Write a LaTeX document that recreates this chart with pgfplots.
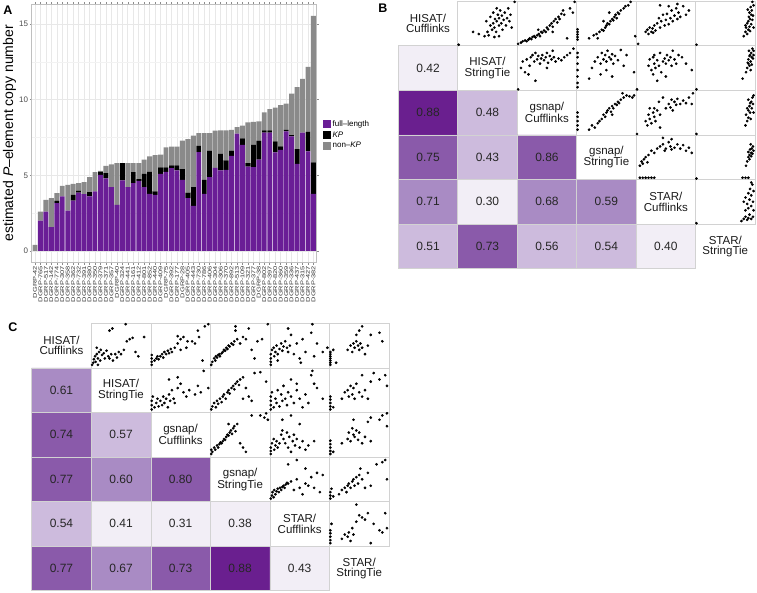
\documentclass[border=0pt]{standalone}
\usepackage{pgfplots}
\usepackage{pgfplotstable}
\pgfplotsset{compat=1.18}
\usepackage{fontspec}
\setmainfont{Liberation Sans}
\usepackage{graphicx}
\definecolor{pur}{RGB}{106,30,150}
\definecolor{nkp}{RGB}{138,138,138}
\definecolor{h0}{HTML}{F2EEF6}
\definecolor{h1}{HTML}{CDBBDD}
\definecolor{h2}{HTML}{A98BC4}
\definecolor{h3}{HTML}{8A5AAA}
\definecolor{h4}{HTML}{6A1F8F}
\definecolor{bordc}{HTML}{D2D2D2}
\newcommand\dgrp[1]{\scalebox{1.35}[1]{DGRP-#1}}
\newcommand\scat[3]{\addplot[only marks, mark=*, mark size=1.15pt, draw=black, fill=black, x filter/.expression={#1+0.015+0.97*x}, y filter/.expression={#2+0.02+0.96*y}] coordinates {#3};}
\newcommand\frm[2]{\draw[bordc, line width=0.6pt] (axis cs:#1,#2) rectangle (axis cs:#1+1,#2+1);}
% x0 y0 x1 y1 xc yc color text
\newcommand\hc[8]{\addplot[fill=#7, draw=bordc, line width=0.6pt] coordinates {(#1,#2) (#3,#2) (#3,#4) (#1,#4) (#1,#2)};
\node[font=\fontsize{12}{12}\selectfont, text=black!85] at (axis cs:#5,#6) {#8};}
\newcommand\dl[4]{\node[font=\fontsize{11.5}{10.5}\selectfont, align=center, text=black!90, inner sep=0pt] at (axis cs:#1,#2) {#3\\#4};}
\pgfplotstableread{
x p k n
1 0 0 0.40
2 2.01 0 0.59
3 2.60 0 0.78
4 1.57 0 1.92
5 3.16 0.17 0.49
6 3.60 0 0.70
7 2.67 0 1.70
8 3.33 0.38 0.73
9 3.86 0.13 0.49
10 3.75 0 0.80
11 3.60 0.29 0.99
12 3.93 0 1.28
13 5.03 0.22 0.05
14 4.79 0.35 0.49
15 4.22 0 1.50
16 3.05 0 2.76
17 4.66 1.15 0
18 4.22 0 1.59
19 4.48 0.73 0.60
20 4.64 0.11 1.06
21 4.22 0.88 0.93
22 3.77 1.46 1.02
23 3.70 0.23 2.40
24 5.10 0.42 0.84
25 5.23 0.29 1.32
26 5.47 0.18 1.25
27 5.32 0.33 1.25
28 4.70 0.71 1.89
29 3.49 0.37 3.54
30 2.98 1.24 3.40
31 6.54 0.41 0.84
32 3.77 0.93 3.09
33 4.88 1.76 1.15
34 5.50 0 2.45
35 5.32 1.10 1.55
36 5.36 0.62 1.99
37 6.29 0.35 1.37
38 7.75 0 0.44
39 7.02 0.42 0.84
40 5.58 0.23 2.69
41 5.54 1.48 1.52
42 6.03 1.27 1.26
43 7.83 0.14 1.19
44 7.83 0.14 1.41
45 6.51 0.73 2.23
46 6.69 0.22 2.74
47 7.90 0.11 1.73
48 7.57 0.09 2.74
49 5.76 0.97 4.11
50 7.83 0 3.54
51 6.58 1.30 4.29
52 3.77 2.08 9.70
}\dataA
\begin{document}
\begin{tikzpicture}
\path[use as bounding box] (0pt,0pt) rectangle (757pt,-592pt);
\node[font=\bfseries\fontsize{12.5}{12.5}\selectfont] at (8pt,-10pt) {A};
\node[font=\bfseries\fontsize{12.5}{12.5}\selectfont] at (383pt,-8pt) {B};
\node[font=\bfseries\fontsize{12.5}{12.5}\selectfont] at (13pt,-327pt) {C};
% ---------------- Panel A
\begin{axis}[
  at={(31.7pt,-262.7pt)}, anchor=south west,
  scale only axis, width=285pt, height=258.7pt,
  ybar stacked, bar width=0.9,
  xmin=0.4, xmax=52.6, ymin=-0.78, ymax=16.33,
  xtick={1,...,52},
  xticklabels={\dgrp{42},\dgrp{765},\dgrp{517},\dgrp{142},\dgrp{774},\dgrp{307},\dgrp{358},\dgrp{362},\dgrp{732},\dgrp{391},\dgrp{380},\dgrp{350},\dgrp{379},\dgrp{371},\dgrp{357},\dgrp{40},\dgrp{324},\dgrp{441},\dgrp{161},\dgrp{412},\dgrp{801},\dgrp{852},\dgrp{440},\dgrp{409},\dgrp{75},\dgrp{392},\dgrp{177},\dgrp{28},\dgrp{405},\dgrp{443},\dgrp{730},\dgrp{786},\dgrp{406},\dgrp{304},\dgrp{306},\dgrp{370},\dgrp{892},\dgrp{513},\dgrp{109},\dgrp{321},\dgrp{377},\dgrp{38},\dgrp{802},\dgrp{397},\dgrp{820},\dgrp{360},\dgrp{359},\dgrp{336},\dgrp{437},\dgrp{315},\dgrp{427},\dgrp{382}},
  ytick={0,5,10,15},
  minor ytick={2.5,7.5,12.5},
  grid=both,
  major grid style={draw=black!9, line width=0.6pt},
  minor grid style={draw=black!5, line width=0.4pt},
  axis line style={draw=black!25, line width=0.6pt},
  tick align=outside, major tick length=2pt, minor tick length=0pt,
  every tick/.style={draw=black!45, line width=0.5pt},
  tick label style={text=black!70},
  y tick label style={font=\fontsize{8}{8}\selectfont, inner sep=1.5pt},
  x tick label style={font=\fontsize{5.5}{5.5}\selectfont, rotate=90, anchor=east, inner sep=1pt, text=black!80},
  /pgf/number format/assume math mode=true,
  ylabel={estimated \textit{P}–element copy number},
  every axis y label/.style={at={(axis description cs:-0.078,0.5)}, rotate=90, anchor=center, font=\fontsize{14}{14}\selectfont},
  legend style={at={(1.02,0.494)}, anchor=west, draw=none, fill=none, font=\fontsize{8}{8.5}\selectfont, row sep=-0.5pt, inner sep=0pt, cells={anchor=west}},
  legend image code/.code={\fill[#1] (0pt,-4pt) rectangle (8pt,4pt);},
]
\addplot[fill=pur, draw=none] table[x=x, y=p] {\dataA};
\addlegendentry{full–length}
\addplot[fill=black, draw=none] table[x=x, y=k] {\dataA};
\addlegendentry{\textit{KP}}
\addplot[fill=nkp, draw=none] table[x=x, y=n] {\dataA};
\addlegendentry{non–\textit{KP}}
\end{axis}
% ---------------- Panel B
\begin{axis}[at={(398.3pt,-268.7pt)}, anchor=south west, scale only axis, width=356.7pt, height=267.7pt,
  xmin=0, xmax=6, ymin=0, ymax=6, hide axis, clip=false]
\hc{0}{4}{1}{5}{0.5}{4.5}{h0}{0.42}
\hc{0}{3}{1}{4}{0.5}{3.5}{h4}{0.88}
\hc{1}{3}{2}{4}{1.5}{3.5}{h1}{0.48}
\hc{0}{2}{1}{3}{0.5}{2.5}{h3}{0.75}
\hc{1}{2}{2}{3}{1.5}{2.5}{h1}{0.43}
\hc{2}{2}{3}{3}{2.5}{2.5}{h3}{0.86}
\hc{0}{1}{1}{2}{0.5}{1.5}{h2}{0.71}
\hc{1}{1}{2}{2}{1.5}{1.5}{h0}{0.30}
\hc{2}{1}{3}{2}{2.5}{1.5}{h2}{0.68}
\hc{3}{1}{4}{2}{3.5}{1.5}{h2}{0.59}
\hc{0}{0}{1}{1}{0.5}{0.5}{h1}{0.51}
\hc{1}{0}{2}{1}{1.5}{0.5}{h3}{0.73}
\hc{2}{0}{3}{1}{2.5}{0.5}{h1}{0.56}
\hc{3}{0}{4}{1}{3.5}{0.5}{h1}{0.54}
\hc{4}{0}{5}{1}{4.5}{0.5}{h0}{0.40}
\dl{0.5}{5.5}{HISAT/}{Cufflinks}
\dl{1.5}{4.5}{HISAT/}{StringTie}
\dl{2.5}{3.5}{gsnap/}{Cufflinks}
\dl{3.5}{2.5}{gsnap/}{StringTie}
\dl{4.5}{1.5}{STAR/}{Cufflinks}
\dl{5.5}{0.5}{STAR/}{StringTie}
\frm{1}{5}\frm{2}{5}\frm{3}{5}\frm{4}{5}\frm{5}{5}
\frm{2}{4}\frm{3}{4}\frm{4}{4}\frm{5}{4}
\frm{3}{3}\frm{4}{3}\frm{5}{3}
\frm{4}{2}\frm{5}{2}
\frm{5}{1}
\scat{1}{5}{(0.0,0.0) (0.25,0.3) (0.35,0.25) (0.45,0.2) (0.5,0.3) (0.52,0.22) (0.55,0.45) (0.58,0.35) (0.6,0.5) (0.62,0.4) (0.63,0.6) (0.65,0.3) (0.66,0.55) (0.68,0.7) (0.7,0.45) (0.7,0.62) (0.72,0.8) (0.74,0.5) (0.75,0.68) (0.76,0.35) (0.78,0.58) (0.8,0.75) (0.82,0.45) (0.84,0.62) (0.86,0.85) (0.88,0.55) (0.9,0.7) (0.55,0.65) (0.6,0.75) (0.66,0.85) (0.48,0.55) (0.92,0.4) (0.97,1.0) (0.62,0.18) (0.7,0.2)}
\scat{2}{5}{(0.0,0.02) (0.05,0.05) (0.08,0.08) (0.12,0.1) (0.15,0.08) (0.18,0.12) (0.2,0.15) (0.23,0.13) (0.25,0.18) (0.28,0.2) (0.3,0.17) (0.33,0.22) (0.36,0.25) (0.38,0.2) (0.4,0.3) (0.42,0.28) (0.45,0.33) (0.48,0.3) (0.5,0.4) (0.52,0.36) (0.55,0.45) (0.58,0.5) (0.6,0.42) (0.62,0.55) (0.65,0.6) (0.68,0.52) (0.7,0.65) (0.72,0.6) (0.75,0.72) (0.78,0.8) (0.8,0.7) (0.85,0.15) (0.9,0.85) (0.95,0.75) (0.98,1.0) (0.6,0.3) (0.35,0.35)}
\scat{3}{5}{(0.0,0.12) (0.0,0.18) (0.0,0.24) (0.0,0.3) (0.0,0.36) (0.2,0.15) (0.28,0.22) (0.33,0.25) (0.38,0.3) (0.42,0.35) (0.45,0.33) (0.48,0.4) (0.5,0.45) (0.52,0.5) (0.55,0.48) (0.57,0.55) (0.6,0.6) (0.62,0.57) (0.64,0.65) (0.66,0.7) (0.68,0.62) (0.7,0.75) (0.72,0.72) (0.75,0.8) (0.8,0.85) (0.83,0.9) (0.88,0.92) (0.92,1.0) (1.0,0.2) (0.55,0.75) (0.45,0.55) (0.35,0.15)}
\scat{4}{5}{(0.02,0.02) (0.15,0.3) (0.18,0.35) (0.2,0.25) (0.22,0.4) (0.25,0.3) (0.27,0.38) (0.28,0.28) (0.3,0.45) (0.32,0.33) (0.35,0.5) (0.38,0.62) (0.4,0.4) (0.42,0.55) (0.45,0.7) (0.48,0.45) (0.5,0.58) (0.52,0.72) (0.55,0.48) (0.58,0.62) (0.6,0.8) (0.62,0.55) (0.65,0.68) (0.68,0.85) (0.7,0.6) (0.72,0.75) (0.75,0.65) (0.8,0.9) (0.85,0.7) (0.9,0.8) (0.4,0.92) (0.7,0.95) (0.55,0.9)}
\scat{5}{5}{(0.0,0.0) (0.82,0.2) (0.85,0.3) (0.88,0.25) (0.9,0.35) (0.86,0.4) (0.92,0.42) (0.88,0.5) (0.95,0.48) (0.9,0.55) (0.93,0.6) (0.97,0.58) (0.91,0.65) (0.95,0.7) (0.98,0.68) (0.92,0.75) (0.96,0.8) (0.89,0.82) (0.94,0.88) (0.99,0.92) (0.97,1.0) (0.85,0.45) (0.93,0.32) (0.99,0.4)}
\scat{2}{4}{(0.0,0.0) (0.05,0.5) (0.08,0.65) (0.12,0.4) (0.15,0.7) (0.2,0.55) (0.22,0.75) (0.25,0.8) (0.28,0.65) (0.3,0.85) (0.33,0.7) (0.35,0.78) (0.38,0.6) (0.4,0.72) (0.42,0.8) (0.45,0.68) (0.48,0.75) (0.5,0.85) (0.52,0.62) (0.55,0.78) (0.58,0.7) (0.6,0.9) (0.62,0.75) (0.65,0.65) (0.7,0.72) (0.75,0.68) (0.8,0.75) (0.85,0.8) (0.9,0.85) (0.96,0.95) (0.3,0.2) (0.18,0.35) (0.5,0.5)}
\scat{3}{4}{(0.0,0.05) (0.0,0.15) (0.0,0.3) (0.0,0.45) (0.0,0.6) (0.0,0.75) (0.0,0.85) (0.25,0.5) (0.3,0.65) (0.35,0.75) (0.4,0.6) (0.42,0.85) (0.45,0.7) (0.48,0.8) (0.5,0.65) (0.52,0.9) (0.55,0.75) (0.58,0.7) (0.6,0.82) (0.62,0.6) (0.65,0.78) (0.7,0.68) (0.75,0.92) (0.8,0.55) (0.85,0.8) (0.5,0.45) (0.4,0.35) (0.2,0.25) (0.6,0.3) (0.98,0.4)}
\scat{4}{4}{(0.0,0.0) (0.2,0.55) (0.22,0.7) (0.25,0.45) (0.28,0.75) (0.3,0.6) (0.3,0.8) (0.32,0.5) (0.35,0.68) (0.38,0.55) (0.4,0.85) (0.42,0.4) (0.45,0.65) (0.48,0.72) (0.5,0.6) (0.52,0.8) (0.55,0.68) (0.58,0.75) (0.6,0.55) (0.62,0.9) (0.65,0.7) (0.68,0.6) (0.72,0.8) (0.78,0.75) (0.85,0.6) (0.95,0.45) (0.35,0.2) (0.5,0.3) (0.28,0.35)}
\scat{5}{4}{(0.0,0.0) (0.8,0.25) (0.86,0.4) (0.88,0.5) (0.9,0.6) (0.92,0.55) (0.94,0.65) (0.9,0.7) (0.96,0.75) (0.93,0.8) (0.98,0.72) (0.95,0.85) (0.99,0.9) (0.91,0.9) (0.97,0.95) (0.89,0.62) (0.94,0.45) (0.99,0.8) (0.92,0.78) (0.96,0.58)}
\scat{3}{3}{(0.0,0.1) (0.0,0.2) (0.0,0.3) (0.0,0.4) (0.0,0.5) (0.2,0.1) (0.25,0.2) (0.3,0.15) (0.35,0.25) (0.38,0.3) (0.42,0.35) (0.45,0.45) (0.48,0.4) (0.5,0.5) (0.52,0.55) (0.55,0.6) (0.58,0.52) (0.6,0.65) (0.62,0.6) (0.65,0.7) (0.68,0.68) (0.7,0.75) (0.72,0.72) (0.75,0.8) (0.8,0.85) (0.85,0.9) (0.9,0.88) (0.95,0.85) (0.98,0.9) (0.78,0.95) (0.6,0.45)}
\scat{4}{3}{(0.0,0.0) (0.15,0.3) (0.18,0.2) (0.2,0.45) (0.22,0.35) (0.25,0.25) (0.28,0.5) (0.3,0.4) (0.3,0.6) (0.32,0.3) (0.35,0.55) (0.38,0.75) (0.4,0.45) (0.45,0.85) (0.5,0.6) (0.55,0.7) (0.58,0.62) (0.6,0.8) (0.62,0.55) (0.65,0.75) (0.68,0.68) (0.7,0.82) (0.75,0.7) (0.8,0.78) (0.85,0.72) (0.9,0.85) (0.95,0.7) (0.97,0.95) (0.4,0.15) (0.22,0.6)}
\scat{5}{3}{(0.0,0.0) (0.85,0.2) (0.88,0.3) (0.9,0.38) (0.86,0.45) (0.93,0.5) (0.9,0.55) (0.96,0.6) (0.92,0.65) (0.98,0.7) (0.95,0.75) (0.9,0.8) (0.97,0.85) (0.99,0.9) (0.94,0.35) (0.88,0.6) (0.99,0.5) (0.93,0.72)}
\scat{4}{2}{(0.05,0.02) (0.1,0.02) (0.15,0.02) (0.2,0.02) (0.25,0.02) (0.3,0.02) (0.05,0.3) (0.08,0.4) (0.1,0.35) (0.12,0.45) (0.15,0.5) (0.18,0.38) (0.2,0.55) (0.25,0.65) (0.3,0.6) (0.35,0.7) (0.4,0.75) (0.45,0.8) (0.48,0.65) (0.5,0.7) (0.55,0.85) (0.58,0.75) (0.6,0.68) (0.65,0.72) (0.7,0.8) (0.75,0.7) (0.8,0.78) (0.85,0.65) (0.9,0.72) (0.95,0.6) (0.45,0.95) (0.6,0.92)}
\scat{5}{2}{(0.0,0.0) (0.8,0.02) (0.85,0.02) (0.9,0.02) (0.86,0.3) (0.88,0.4) (0.9,0.5) (0.92,0.55) (0.95,0.6) (0.9,0.62) (0.93,0.68) (0.96,0.7) (0.98,0.75) (0.94,0.8) (0.97,0.58) (0.99,0.65) (0.92,0.45) (0.95,0.52)}
\scat{5}{1}{(0.0,0.0) (0.78,0.05) (0.82,0.1) (0.85,0.15) (0.88,0.08) (0.9,0.12) (0.92,0.2) (0.95,0.1) (0.98,0.15) (0.85,0.3) (0.9,0.35) (0.95,0.4) (0.88,0.45) (0.98,0.5) (0.92,0.55) (0.85,0.6) (0.95,0.65) (0.9,0.7) (0.99,0.75) (0.93,0.8) (0.97,0.9) (0.95,0.95) (0.82,0.5) (0.99,0.3)}
\end{axis}
% ---------------- Panel C
\begin{axis}[at={(31.7pt,-590.7pt)}, anchor=south west, scale only axis, width=357.3pt, height=267.4pt,
  xmin=0, xmax=6, ymin=0, ymax=6, hide axis, clip=false]
\hc{0}{4}{1}{5}{0.5}{4.5}{h2}{0.61}
\hc{0}{3}{1}{4}{0.5}{3.5}{h3}{0.74}
\hc{1}{3}{2}{4}{1.5}{3.5}{h1}{0.57}
\hc{0}{2}{1}{3}{0.5}{2.5}{h3}{0.77}
\hc{1}{2}{2}{3}{1.5}{2.5}{h2}{0.60}
\hc{2}{2}{3}{3}{2.5}{2.5}{h3}{0.80}
\hc{0}{1}{1}{2}{0.5}{1.5}{h1}{0.54}
\hc{1}{1}{2}{2}{1.5}{1.5}{h0}{0.41}
\hc{2}{1}{3}{2}{2.5}{1.5}{h0}{0.31}
\hc{3}{1}{4}{2}{3.5}{1.5}{h0}{0.38}
\hc{0}{0}{1}{1}{0.5}{0.5}{h3}{0.77}
\hc{1}{0}{2}{1}{1.5}{0.5}{h2}{0.67}
\hc{2}{0}{3}{1}{2.5}{0.5}{h3}{0.73}
\hc{3}{0}{4}{1}{3.5}{0.5}{h4}{0.88}
\hc{4}{0}{5}{1}{4.5}{0.5}{h0}{0.43}
\dl{0.5}{5.5}{HISAT/}{Cufflinks}
\dl{1.5}{4.5}{HISAT/}{StringTie}
\dl{2.5}{3.5}{gsnap/}{Cufflinks}
\dl{3.5}{2.5}{gsnap/}{StringTie}
\dl{4.5}{1.5}{STAR/}{Cufflinks}
\dl{5.5}{0.5}{STAR/}{StringTie}
\frm{1}{5}\frm{2}{5}\frm{3}{5}\frm{4}{5}\frm{5}{5}
\frm{2}{4}\frm{3}{4}\frm{4}{4}\frm{5}{4}
\frm{3}{3}\frm{4}{3}\frm{5}{3}
\frm{4}{2}\frm{5}{2}
\frm{5}{1}
\scat{1}{5}{(0.0,0.05) (0.02,0.1) (0.03,0.18) (0.05,0.25) (0.06,0.12) (0.08,0.3) (0.1,0.2) (0.12,0.35) (0.14,0.15) (0.15,0.4) (0.17,0.28) (0.2,0.32) (0.22,0.2) (0.25,0.38) (0.28,0.25) (0.3,0.2) (0.33,0.3) (0.36,0.15) (0.4,0.3) (0.43,0.22) (0.46,0.35) (0.5,0.3) (0.55,0.4) (0.6,0.6) (0.65,0.65) (0.7,0.68) (0.75,0.35) (0.8,0.25) (0.9,0.7) (0.35,0.9) (0.58,1.0) (0.3,0.85) (0.08,0.45) (0.1,0.05)}
\scat{2}{5}{(0.0,0.05) (0.0,0.12) (0.0,0.2) (0.0,0.28) (0.05,0.15) (0.08,0.2) (0.1,0.25) (0.12,0.18) (0.15,0.25) (0.18,0.3) (0.2,0.22) (0.22,0.35) (0.25,0.3) (0.28,0.38) (0.3,0.32) (0.33,0.42) (0.35,0.35) (0.4,0.45) (0.45,0.55) (0.5,0.4) (0.5,0.65) (0.55,0.7) (0.6,0.45) (0.62,0.6) (0.7,0.6) (0.75,0.55) (0.8,0.85) (0.82,0.7) (0.88,0.15) (0.92,0.95) (0.98,1.0) (0.45,0.72)}
\scat{3}{5}{(0.0,0.05) (0.02,0.12) (0.05,0.2) (0.07,0.15) (0.08,0.25) (0.1,0.22) (0.12,0.28) (0.14,0.3) (0.15,0.25) (0.18,0.32) (0.2,0.35) (0.22,0.4) (0.24,0.38) (0.26,0.45) (0.28,0.42) (0.3,0.5) (0.32,0.48) (0.35,0.55) (0.38,0.52) (0.4,0.6) (0.45,0.65) (0.5,0.55) (0.55,0.7) (0.6,0.65) (0.65,0.9) (0.7,0.4) (0.75,0.2) (0.8,0.6) (0.88,0.65) (0.98,1.0) (0.42,0.85) (0.42,0.95)}
\scat{4}{5}{(0.0,0.05) (0.0,0.12) (0.0,0.2) (0.0,0.3) (0.02,0.4) (0.05,0.45) (0.06,0.25) (0.08,0.35) (0.1,0.5) (0.12,0.3) (0.15,0.42) (0.18,0.55) (0.2,0.38) (0.22,0.48) (0.25,0.6) (0.28,0.45) (0.3,0.35) (0.33,0.5) (0.35,0.75) (0.4,0.3) (0.45,0.55) (0.5,0.2) (0.52,0.1) (0.55,0.65) (0.6,0.35) (0.7,0.8) (0.75,0.25) (0.8,0.55) (0.9,0.35) (0.98,0.45) (0.3,0.9) (0.72,1.0) (0.12,0.15)}
\scat{5}{5}{(0.0,0.05) (0.0,0.1) (0.0,0.15) (0.0,0.2) (0.0,0.25) (0.0,0.3) (0.0,0.35) (0.05,0.4) (0.1,0.1) (0.3,0.4) (0.35,0.5) (0.38,0.35) (0.4,0.55) (0.42,0.45) (0.45,0.6) (0.48,0.5) (0.5,0.4) (0.52,0.55) (0.55,0.45) (0.6,0.3) (0.65,0.5) (0.45,0.75) (0.5,0.85) (0.7,0.75) (0.85,0.8) (0.55,0.95) (0.9,0.6)}
\scat{2}{4}{(0.0,0.05) (0.0,0.15) (0.0,0.25) (0.02,0.35) (0.05,0.1) (0.08,0.2) (0.1,0.3) (0.12,0.12) (0.15,0.25) (0.18,0.15) (0.2,0.35) (0.22,0.2) (0.25,0.3) (0.28,0.1) (0.3,0.4) (0.32,0.25) (0.35,0.5) (0.38,0.3) (0.4,0.2) (0.45,0.55) (0.5,0.65) (0.55,0.45) (0.6,0.35) (0.65,0.5) (0.75,0.4) (0.8,0.6) (0.85,0.45) (0.9,0.95) (0.98,0.55) (0.3,0.75) (0.45,0.8)}
\scat{3}{4}{(0.0,0.05) (0.02,0.12) (0.05,0.2) (0.08,0.1) (0.1,0.25) (0.12,0.18) (0.15,0.3) (0.18,0.22) (0.2,0.35) (0.22,0.4) (0.25,0.3) (0.28,0.45) (0.3,0.5) (0.32,0.42) (0.35,0.55) (0.38,0.6) (0.4,0.52) (0.42,0.65) (0.45,0.7) (0.48,0.62) (0.5,0.75) (0.55,0.8) (0.6,0.55) (0.65,0.35) (0.75,0.9) (0.85,0.92) (0.95,0.7) (0.55,0.3) (0.7,0.25)}
\scat{4}{4}{(0.0,0.05) (0.0,0.15) (0.0,0.25) (0.0,0.35) (0.02,0.45) (0.05,0.1) (0.08,0.3) (0.1,0.2) (0.12,0.5) (0.15,0.12) (0.18,0.4) (0.2,0.25) (0.22,0.6) (0.25,0.3) (0.28,0.15) (0.3,0.45) (0.35,0.35) (0.4,0.2) (0.45,0.5) (0.5,0.3) (0.55,0.1) (0.6,0.4) (0.65,0.2) (0.7,0.85) (0.72,0.95) (0.75,0.65) (0.8,0.55) (0.9,0.3) (0.35,0.75) (0.45,0.65)}
\scat{5}{4}{(0.0,0.05) (0.0,0.12) (0.0,0.2) (0.0,0.28) (0.0,0.35) (0.05,0.1) (0.2,0.3) (0.25,0.45) (0.3,0.5) (0.32,0.35) (0.35,0.6) (0.38,0.4) (0.4,0.55) (0.42,0.3) (0.45,0.65) (0.5,0.45) (0.55,0.35) (0.6,0.5) (0.65,0.3) (0.55,0.85) (0.7,0.7) (0.75,0.9) (0.85,0.75) (0.95,0.85) (0.98,0.6)}
\scat{3}{3}{(0.0,0.05) (0.0,0.15) (0.02,0.1) (0.05,0.2) (0.07,0.15) (0.1,0.25) (0.12,0.2) (0.14,0.28) (0.16,0.32) (0.18,0.3) (0.2,0.35) (0.22,0.4) (0.24,0.38) (0.26,0.45) (0.28,0.5) (0.3,0.48) (0.32,0.55) (0.34,0.6) (0.36,0.52) (0.38,0.65) (0.4,0.7) (0.42,0.58) (0.45,0.75) (0.5,0.3) (0.55,0.2) (0.6,0.1) (0.3,0.75) (0.7,0.95) (0.85,0.95) (0.92,0.9) (0.95,1.0) (0.98,0.85)}
\scat{4}{3}{(0.0,0.05) (0.0,0.12) (0.0,0.2) (0.02,0.3) (0.05,0.4) (0.06,0.15) (0.08,0.25) (0.1,0.35) (0.12,0.2) (0.15,0.3) (0.18,0.5) (0.2,0.6) (0.22,0.4) (0.25,0.3) (0.28,0.55) (0.3,0.2) (0.32,0.45) (0.35,0.1) (0.38,0.35) (0.4,0.5) (0.42,0.25) (0.45,0.4) (0.5,0.2) (0.55,0.35) (0.6,0.15) (0.65,0.25) (0.75,0.35) (0.2,0.85) (0.35,0.95) (0.5,0.75)}
\scat{5}{3}{(0.0,0.05) (0.0,0.12) (0.0,0.2) (0.0,0.28) (0.0,0.36) (0.05,0.1) (0.2,0.3) (0.3,0.4) (0.32,0.55) (0.35,0.35) (0.38,0.65) (0.4,0.5) (0.42,0.45) (0.45,0.6) (0.48,0.38) (0.5,0.55) (0.55,0.3) (0.6,0.45) (0.7,0.35) (0.4,0.85) (0.65,0.8) (0.7,0.9) (0.85,0.85) (0.9,0.95) (0.98,0.7) (0.98,1.0)}
\scat{4}{2}{(0.0,0.05) (0.02,0.12) (0.03,0.2) (0.05,0.08) (0.06,0.25) (0.08,0.15) (0.1,0.22) (0.12,0.28) (0.14,0.2) (0.16,0.3) (0.18,0.25) (0.2,0.32) (0.22,0.35) (0.24,0.3) (0.26,0.38) (0.28,0.42) (0.3,0.4) (0.35,0.45) (0.4,0.25) (0.45,0.5) (0.5,0.3) (0.55,0.15) (0.6,0.4) (0.65,0.35) (0.7,0.55) (0.75,0.3) (0.8,0.65) (0.85,0.2) (0.9,0.6) (0.3,0.85) (0.45,0.95) (0.6,0.75)}
\scat{5}{2}{(0.0,0.05) (0.0,0.12) (0.0,0.2) (0.02,0.28) (0.05,0.1) (0.15,0.15) (0.2,0.25) (0.25,0.3) (0.28,0.2) (0.3,0.35) (0.32,0.4) (0.35,0.3) (0.38,0.45) (0.4,0.5) (0.42,0.35) (0.45,0.55) (0.48,0.4) (0.5,0.6) (0.52,0.75) (0.55,0.5) (0.6,0.3) (0.65,0.65) (0.7,0.35) (0.8,0.85) (0.9,0.9) (0.95,0.95) (0.98,0.5)}
\scat{5}{1}{(0.0,0.05) (0.0,0.12) (0.0,0.2) (0.0,0.28) (0.0,0.35) (0.02,0.5) (0.2,0.15) (0.25,0.25) (0.3,0.2) (0.32,0.3) (0.35,0.1) (0.38,0.4) (0.4,0.25) (0.45,0.55) (0.5,0.7) (0.55,0.65) (0.6,0.6) (0.65,0.75) (0.7,0.05) (0.75,0.5) (0.85,0.35) (0.9,0.3) (0.95,0.75) (0.98,0.4) (0.45,0.95)}
\end{axis}
\end{tikzpicture}
\end{document}
